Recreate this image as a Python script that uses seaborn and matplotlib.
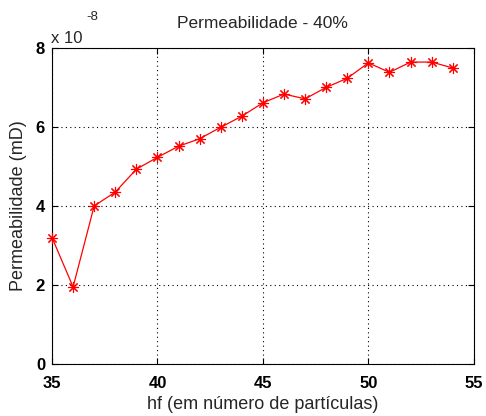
import matplotlib
matplotlib.use("Agg")
import matplotlib.pyplot as plt
import numpy as np
import pandas as pd
import seaborn as sns
from matplotlib.ticker import FuncFormatter

# hf (numero de particulas) e permeabilidade (mD)
HF = [35, 36, 37, 38, 39, 40, 41, 42, 43, 44, 45, 46, 47, 48, 49, 50, 51, 52, 53, 54]
PERM_E8 = [3.20, 1.95, 4.00, 4.35, 4.93, 5.23, 5.51, 5.70, 5.99, 6.27, 6.61, 6.83,
           6.71, 7.00, 7.23, 7.62, 7.38, 7.64, 7.64, 7.49]

SCALE = 1e-8


def main() -> None:
    df = pd.DataFrame({"hf": HF, "perm": np.array(PERM_E8) * SCALE})

    sns.set_style("ticks")
    plt.rcParams["font.family"] = ["Liberation Sans", "DejaVu Sans"]

    fig = plt.figure(figsize=(4.86, 4.16), dpi=100)
    ax = fig.add_axes([0.107, 0.125, 0.868, 0.76])

    sns.lineplot(
        data=df, x="hf", y="perm", ax=ax,
        color="red", linewidth=0.9,
        marker=(8, 2, 0), markersize=8, markeredgecolor="red",
        markeredgewidth=0.8, clip_on=False, zorder=5,
    )

    ax.set_xlim(35, 55)
    ax.set_ylim(0, 8 * SCALE)
    ax.set_xticks([35, 40, 45, 50, 55])
    ax.set_yticks(np.arange(0, 9, 2) * SCALE)
    ax.yaxis.set_major_formatter(FuncFormatter(lambda v, _: f"{v / SCALE:g}"))

    ax.grid(True, color="black", linestyle=(0, (1, 3)), linewidth=0.8)
    for spine in ax.spines.values():
        spine.set_color("black")
        spine.set_linewidth(0.8)
    ax.tick_params(direction="in", length=4, width=0.8, labelsize=12,
                   top=True, right=True, colors="black")
    ax.tick_params(axis="x", pad=9)
    ax.tick_params(axis="y", pad=5)
    for lbl in ax.get_xticklabels() + ax.get_yticklabels():
        lbl.set_fontweight("bold")

    ax.set_title("Permeabilidade - 40%", fontsize=12.5, pad=14)
    ax.set_xlabel("hf (em número de partículas)", fontsize=13, labelpad=3)
    ax.set_ylabel("Permeabilidade (mD)", fontsize=13, labelpad=6)

    fig.text(0.105, 0.89, "x 10", fontsize=12, ha="left", va="bottom")
    fig.text(0.178, 0.945, "-8", fontsize=9.5, ha="left", va="bottom")

    fig.savefig("out.png", dpi=100)
    plt.close(fig)


if __name__ == "__main__":
    main()
